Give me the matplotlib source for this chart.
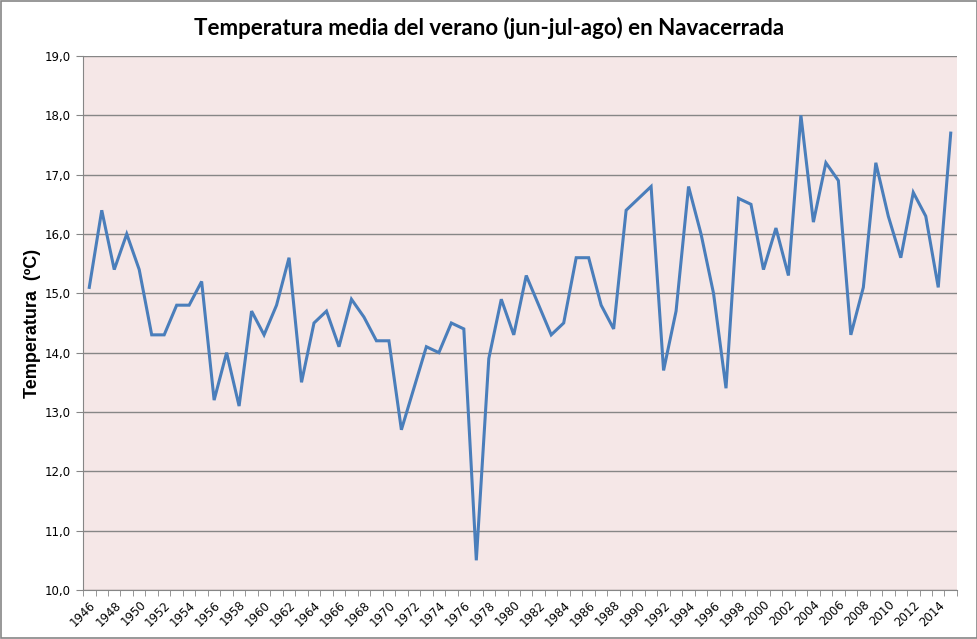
import numpy as np
import matplotlib
matplotlib.use('Agg')
import matplotlib.pyplot as plt
from matplotlib.ticker import FixedLocator, FuncFormatter
from matplotlib.patches import Rectangle

# Summer mean temperature (Jun-Jul-Aug) at Navacerrada
years = list(range(1946, 2016))
temps = [15.1, 16.4, 15.4, 16.0, 15.4, 14.3, 14.3, 14.8, 14.8, 15.2,
         13.2, 14.0, 13.1, 14.7, 14.3, 14.8, 15.6, 13.5, 14.5, 14.7,
         14.1, 14.9, 14.6, 14.2, 14.2, 12.7, 13.4, 14.1, 14.0, 14.5,
         14.4, 10.5, 13.9, 14.9, 14.3, 15.3, 14.8, 14.3, 14.5, 15.6,
         15.6, 14.8, 14.4, 16.4, 16.6, 16.8, 13.7, 14.7, 16.8, 16.0,
         15.0, 13.4, 16.6, 16.5, 15.4, 16.1, 15.3, 18.0, 16.2, 17.2,
         16.9, 14.3, 15.1, 17.2, 16.3, 15.6, 16.7, 16.3, 15.1, 17.7]
yticks = np.arange(10.0, 19.01, 1.0)

fig = plt.figure(figsize=(9.78, 6.39), dpi=100)
ax = fig.add_axes([0.0849, 0.0767, 0.8936, 0.8357])
ax.set_facecolor('#F5E7E7')

x = np.arange(len(years))
ax.plot(x, temps, color='#4A7EBB', lw=2.2, solid_joinstyle='miter')

ax.set_xlim(-0.5, len(years) - 0.5)
ax.set_ylim(10.0, 19.0)
ax.set_yticks(yticks)
ax.yaxis.set_major_formatter(FuncFormatter(lambda v, p: f'{v:.1f}'.replace('.', ',')))
ax.grid(axis='y', color='#868686', lw=1.0)
ax.set_axisbelow(True)

# category axis: ticks between categories, labels every two years
ax.xaxis.set_minor_locator(FixedLocator(np.arange(-0.5, len(years), 1.0)))
ax.set_xticks(x[::2])
ax.set_xticklabels([str(y) for y in years[::2]], rotation=45, ha='right',
                   rotation_mode='anchor', fontsize=8.5, family='DejaVu Sans')
ax.tick_params(axis='x', which='major', length=0, pad=6)
ax.tick_params(axis='x', which='minor', length=4, color='#868686', direction='out')
ax.tick_params(axis='y', length=5, color='#868686', labelsize=8.5, pad=4)

for s in ['top', 'right']:
    ax.spines[s].set_visible(False)
for s in ['left', 'bottom']:
    ax.spines[s].set_color('#868686')

ax.set_ylabel('Temperatura  (ºC)', fontsize=13, fontweight='bold',
              family='Liberation Sans', va='center')
ax.yaxis.set_label_coords(-0.058, 0.5)
fig.suptitle('Temperatura media del verano (jun-jul-ago) en Navacerrada',
             fontsize=16, fontweight='bold', family='Lato', y=0.974)

fig.patches.append(Rectangle((0.001, 0.0015), 0.998, 0.997, transform=fig.transFigure,
                             fill=False, edgecolor='#868686', lw=1.2))

fig.savefig('out.png', dpi=100)
